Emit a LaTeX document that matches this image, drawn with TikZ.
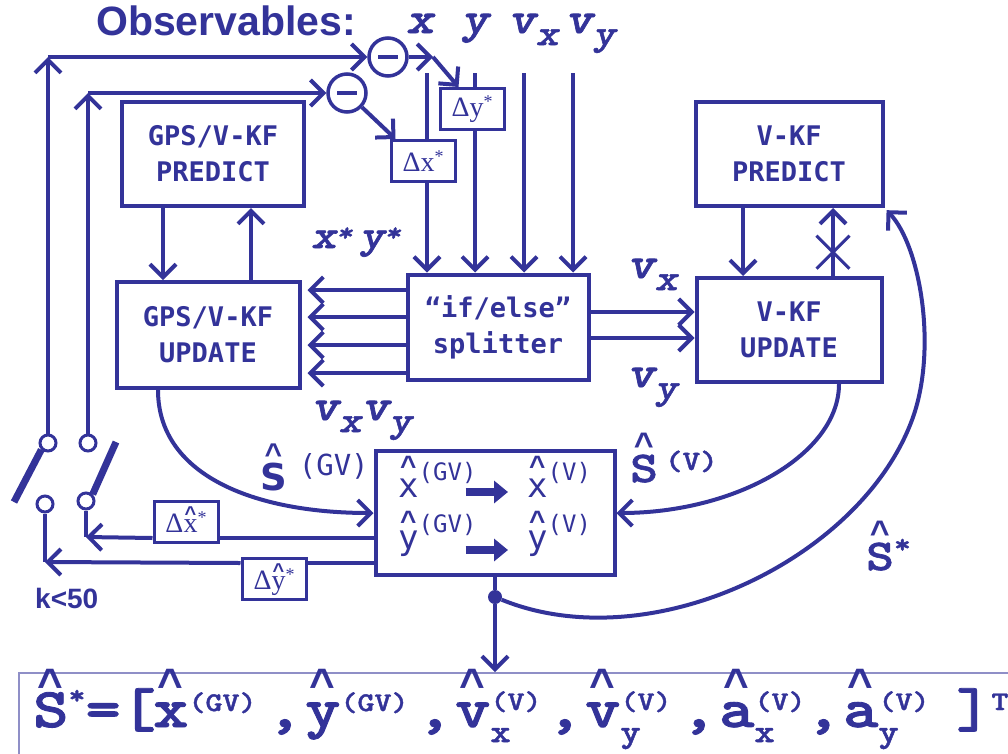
\documentclass[tikz,border=0pt]{standalone}
\usepackage{fontspec}
\setmainfont{Liberation Sans}
\newfontfamily\boxfont{DejaVu Sans Mono}
\newfontfamily\sansdv{DejaVu Sans}
\newfontfamily\varfont{Liberation Mono}
\newfontfamily\serfont{Liberation Serif}
\newfontfamily\courb{lmmonolt10-bold}[Extension=.otf, FakeStretch=1.2, FakeBold=1.5]
\newfontfamily\courbi{lmmonolt10-boldoblique}[Extension=.otf, FakeStretch=1.2, FakeBold=1.5]
\usetikzlibrary{arrows.meta,positioning,shapes.misc}
\definecolor{kfblue}{RGB}{51,51,153}

% caret of a given size put over a letter
\newcommand\hatl[3][0pt]{\ooalign{#3\cr\hidewidth\raisebox{#1}{\varfont\bfseries\fontsize{#2}{#2}\selectfont\textasciicircum}\hidewidth\cr}}
\newcommand\boxlabel{\boxfont\bfseries\fontsize{27}{36}\selectfont}
\newcommand\obsfont{\courbi\fontsize{44}{44}\selectfont}
\newcommand\vsub[2]{#1\raisebox{-12pt}{\fontsize{36}{36}\selectfont #2}}
\newcommand\obsst{\raisebox{7pt}{\fontsize{26}{26}\selectfont *}}
\newcommand\dst{\raisebox{9pt}{\fontsize{18}{18}\selectfont *}}
\newcommand\gvup[1]{\raisebox{17pt}{\fontsize{24}{24}\selectfont #1}}
\newcommand\fsup{\fontsize{27}{27}\selectfont}
\newcommand\fup[2]{\raisebox{#1}{\fsup #2}}
\newcommand\fsubup[2]{\rlap{\raisebox{-15pt}{\fontsize{32}{32}\selectfont #1}}\fup{17pt}{#2}}
\newcommand\fgrp[2]{\makebox[#1][l]{#2\hfill,\hspace{3pt}}}

\begin{document}
\begin{tikzpicture}[x=1pt, y=-1pt,
    every node/.style={text=kfblue},
    kfbox/.style={draw=kfblue, line width=4pt, align=center, inner sep=0pt, font=\boxlabel},
    dbox/.style={draw=kfblue, line width=3pt, inner sep=0pt, minimum width=64pt, minimum height=41pt, font=\serfont\fontsize{28}{28}\selectfont},
    var/.style={inner sep=0pt, font=\obsfont},
    hatlabel/.style={inner sep=0pt, font=\courb\fontsize{44}{44}\selectfont},
    est/.style={inner sep=0pt, font=\boxfont\fontsize{34}{34}\selectfont},
    minus/.style={circle, draw=kfblue, line width=3.5pt, minimum size=38pt, inner sep=0pt},
    contact/.style={circle, draw=kfblue, line width=3pt, minimum size=16pt, inner sep=0pt, fill=white},
    cut/.style={cross out, draw=kfblue, line width=3pt, minimum size=30pt, inner sep=0pt},
    wire/.style={draw=kfblue, line width=4pt},
    flow/.style={wire, -{Straight Barb[length=13pt,width=26pt]}},
    fat/.style={draw=kfblue, line width=8pt, -{Triangle[length=14pt,width=22pt]}},
    blade/.style={draw=kfblue, line width=7pt}
]
\useasboundingbox (0,0) rectangle (1008,753);

% observables
\node[font=\bfseries\fontsize{41}{41}\selectfont, anchor=base west, inner sep=0pt] (title) at (96,35) {Observables:};
\node[var, anchor=base] (obsx) at (420,33) {x};
\node[var, anchor=base] (obsy) at (475,33) {y};
\node[var, anchor=base west] (obsvx) at (508,33) {\vsub{v}{x}};
\node[var, anchor=base west] (obsvy) at (565,33) {\vsub{v}{y}};
\coordinate (xin) at (427,73);
\coordinate (yin) at (475,73);
\coordinate (vxin) at (524,73);
\coordinate (vyin) at (573,73);

% filters and splitter
\node[kfbox, minimum width=182pt, minimum height=104pt] (pred1) at (213,154) {GPS/V-KF\\PREDICT};
\node[kfbox, minimum width=183pt, minimum height=106pt] (upd1) at (208,335) {GPS/V-KF\\UPDATE};
\node[kfbox, minimum width=181pt, minimum height=105pt] (split) at (498,327) {“if/else”\\splitter};
\node[kfbox, minimum width=187pt, minimum height=104pt] (pred2) at (789,154) {V-KF\\PREDICT};
\node[kfbox, minimum width=185pt, minimum height=104pt, below=68pt of pred2] (upd2) {V-KF\\UPDATE};

% innovations
\node[minus] (c1) at (388,57) {\rule{20pt}{3.5pt}};
\node[minus] (c2) at (347,93) {\rule{20pt}{3.5pt}};
\node[dbox] (dx) at (423,161) {Δx\dst};
\node[dbox] (dy) at (472,109) {Δy\dst};

% merged estimate
\node[kfbox, minimum width=239pt, minimum height=124pt] (out) at (495,513) {};
\node[est, anchor=base west] (xgv) at (398,497) {\hatl[22pt]{28}{x}\gvup{(GV)}};
\node[est, anchor=base west] (xv) at (527,497) {\hatl[22pt]{28}{x}\gvup{(V)}};
\node[est, anchor=base west] (ygv) at (398,549) {\hatl[19pt]{28}{y}\gvup{(GV)}};
\node[est, anchor=base west] (yv) at (527,549) {\hatl[19pt]{28}{y}\gvup{(V)}};
\node[dbox] (dxh) at (186,522) {Δ\hatl[12pt]{20}{x}\dst};
\node[dbox] (dyh) at (274,579) {Δ\hatl[12pt]{20}{y}\dst};
\node[circle, fill=kfblue, minimum size=14pt, inner sep=0pt] (tap) at (495,597) {};

% switches
\node[contact] (sw1t) at (48,443) {};
\node[contact] (sw1b) at (45,504) {};
\node[contact] (sw2t) at (88,443) {};
\node[contact] (sw2b) at (86,501) {};
\draw[blade] (14,502) -- (sw1t.south west);
\draw[blade] (sw2b.north east) -- (116,442);
\node[font=\bfseries\fontsize{28}{28}\selectfont, anchor=base west, inner sep=0pt] (klim) at (35,608) {k<50};

% labels
\node[var, anchor=base west, font=\courbi\fontsize{40}{40}\selectfont] (xystar) at (311,248) {x\obsst\,y\obsst};
\node[var, anchor=base west] (vxvy) at (311,420) {\vsub{v}{x}\vsub{v}{y}};
\node[var, anchor=base west] (vxr) at (627,278) {\vsub{v}{x}};
\node[var, anchor=base west] (vyr) at (627,387) {\vsub{v}{y}};
\node[hatlabel, anchor=base west, font=\sansdv\bfseries\fontsize{37}{37}\selectfont] (sgv) at (260,490)
  {\hatl[26pt]{30}{S}\hspace{12pt}\raisebox{15pt}{\boxfont\mdseries\fontsize{29}{29}\selectfont(GV)}};
\node[hatlabel, anchor=base west] (sv) at (630,482) {\hatl[26pt]{34}{S}\hspace{7pt}\raisebox{12pt}{\fontsize{28}{28}\selectfont(V)}};
\node[hatlabel, anchor=base west] (sstar) at (866,570) {\hatl[26pt]{34}{S}\raisebox{17pt}{\fontsize{27}{27}\selectfont*}};

% state vector
\node[draw=kfblue!55, line width=2pt, minimum width=996pt, minimum height=87pt] (statebox) at (517,716.5) {};
\node[inner sep=0pt, anchor=base west, font=\courb\fontsize{56}{56}\selectfont] (state) at (33,727)
  {\makebox[120pt][l]{\hatl[28pt]{44}{S}\fup{23pt}{*}=[}%
   \fgrp{152pt}{\hatl[28pt]{44}{x}\fup{16pt}{(GV)}}%
   \fgrp{150pt}{\hatl[28pt]{44}{y}\fup{16pt}{(GV)}}%
   \fgrp{130pt}{\hatl[28pt]{44}{v}\fsubup{x}{(V)}}%
   \fgrp{134pt}{\hatl[28pt]{44}{v}\fsubup{y}{(V)}}%
   \fgrp{124pt}{\hatl[28pt]{44}{a}\fsubup{x}{(V)}}%
   \makebox[113pt][l]{\hatl[28pt]{44}{a}\fsubup{y}{(V)}}]\fup{17pt}{T}};

% observable inputs
\draw[wire] (xin) -- (xin |- dx.north);
\draw[flow] (xin |- dx.south) -- (xin |- split.north);
\draw[wire] (yin) -- (yin |- dy.north);
\draw[flow] (yin |- dy.south) -- (yin |- split.north);
\draw[flow] (vxin) -- (vxin |- split.north);
\draw[flow] (vyin) -- (vyin |- split.north);

% splitter outputs
\foreach \off in {37,10,-18,-46} {
  \coordinate (sl) at ([yshift=\off pt]split.west);
  \draw[flow, shorten >=6pt] (sl) -- (sl -| upd1.east);
}
\foreach \off in {15,-11} {
  \coordinate (sr) at ([yshift=\off pt]split.east);
  \draw[flow] (sr) -- (sr -| upd2.west);
}

% predict / update loops
\coordinate (p1d) at ([xshift=-50pt]pred1.south);
\draw[flow] (p1d) -- (p1d |- upd1.north);
\coordinate (p1u) at ([xshift=43pt]upd1.north);
\draw[flow] (p1u) -- (p1u |- pred1.south);
\coordinate (p2d) at ([xshift=-46pt]pred2.south);
\draw[flow] (p2d) -- (p2d |- upd2.north);
\coordinate (p2u) at ([xshift=44pt]upd2.north);
\draw[flow] (p2u) -- node[pos=0.35, cut] (block) {} (p2u |- pred2.south);

% estimates into the merger
\draw[flow] ([xshift=-50pt]upd1.south) .. controls +(0,85) and +(-120,0) .. (out.west);
\draw[flow] ([xshift=50pt]upd2.south) .. controls +(0,70) and +(120,0) .. (out.east);
\draw[fat] ([xshift=-11pt,yshift=5pt]xgv.base east) -- ([xshift=-19pt,yshift=5pt]xv.base west);
\draw[fat] ([xshift=-11pt,yshift=-1pt]ygv.base east) -- ([xshift=-19pt,yshift=-1pt]yv.base west);

% feedback through the switches
\coordinate (fb1) at (sw1t |- c1);
\coordinate (fb2) at (sw2t |- c2);
\draw[flow] (sw1t) -- (fb1);
\draw[flow] (fb1) -- (c1);
\draw[flow] (sw2t) -- (fb2);
\draw[flow] (fb2) -- (c2);
\coordinate (bend) at (433,57);
\draw[flow] (c1) -- (bend);
\draw[flow] (bend) -- ([xshift=20pt]dy.north west);
\draw[flow] (c2) -- ([xshift=6pt]dx.north west);

\coordinate (dxc) at (86,537);
\coordinate (dyc) at (45,562);
\coordinate (dxo) at ([yshift=-25pt]out.west);
\coordinate (dyo) at ([yshift=-50pt]out.west);
\draw[wire] (dxo) -- (dxo -| dxh.east);
\draw[flow] (dxo -| dxh.west) -- (dxc);
\draw[wire] (dyo) -- (dyo -| dyh.east);
\draw[flow] (dyo -| dyh.west) -- (dyc);
\draw[wire] (sw2b) -- (dxc);
\draw[wire] (sw1b) -- (dyc);

% fused output
\coordinate (skink) at (912,420);
\draw[wire] (out.south) -- (tap);
\draw[flow] (tap) -- (tap |- statebox.north);
\draw[flow, shorten >=3pt] (tap) .. controls +(155,63) and +(-52,140) .. (skink)
  .. controls +(26,-70) and +(36,38) .. (pred2.south east);
\end{tikzpicture}
\end{document}
